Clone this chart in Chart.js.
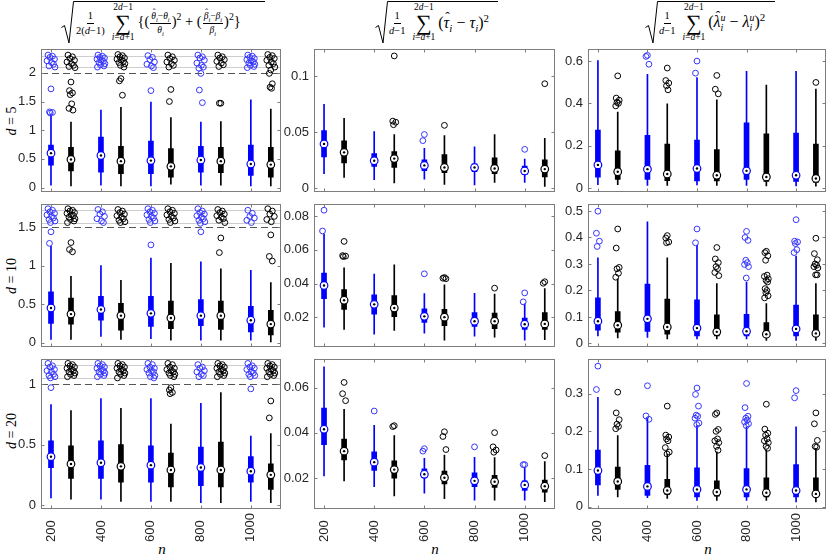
<!DOCTYPE html>
<html><head><meta charset="utf-8">
<script src="https://cdn.jsdelivr.net/npm/chart.js@4.4.1/dist/chart.umd.min.js"></script>
<style>
html,body{margin:0;padding:0;background:#fff;}
body{width:830px;height:556px;position:relative;overflow:hidden;font-family:'Liberation Sans',Arial,sans-serif;}
canvas{position:absolute;}
.formula{position:absolute;top:0;height:46px;font-family:'Liberation Serif','DejaVu Serif',serif;color:#000;}
.rad{position:absolute;left:0;top:0;}
.rad path{fill:none;stroke:#000;stroke-width:1;}
.mc{position:absolute;top:4px;height:38px;display:flex;align-items:center;white-space:nowrap;}
.frac{display:inline-flex;flex-direction:column;align-items:center;vertical-align:middle;line-height:1.1;}
.frac .nu{border-bottom:0.8px solid #000;padding:0 1px 1px;}
.frac .de{padding-top:1px;}
.sm{font-size:10.5px;margin-right:7px;}
.md{font-size:9.5px;margin:0 1px;}
.sum{display:inline-flex;flex-direction:column;align-items:center;line-height:1;margin-right:3px;}
.sum .lim{font-size:9.5px;}
.sum .sig{font-size:22px;line-height:0.92;}
.body{font-size:16px;display:inline-block;}
.b1{font-size:14.5px;}
sub,sup{font-size:0.68em;line-height:0;}
.hat{position:relative;display:inline-block;}
.hat::after{content:'\02C6';position:absolute;left:0.12em;right:0;top:-0.28em;text-align:center;font-style:normal;font-size:0.85em;}
.ss{display:inline-flex;flex-direction:column;vertical-align:middle;font-size:0.62em;line-height:1.05;font-style:italic;}
.rowlab{position:absolute;font-family:'Liberation Serif',serif;font-size:14px;white-space:nowrap;transform:translate(-50%,-50%) rotate(-90deg);}
.nlab{position:absolute;font-family:'Liberation Serif',serif;font-size:15px;font-style:italic;transform:translate(-50%,-50%);}
</style></head>
<body>
<div class="formula" style="left:61px;width:204px">
  <svg class="rad" width="204" height="46"><path d="M0.5 27.5 L3.5 25.5 L8 43 L12.5 1.5 L204 1.5"/></svg>
  <div class="mc" style="left:15px">
    <span class="frac sm"><span class="nu">1</span><span class="de">2(<i>d</i>−1)</span></span>
    <span class="sum"><span class="lim">2<i>d</i>−1</span><span class="sig">∑</span><span class="lim"><i>i</i>=<i>d</i>+1</span></span>
    <span class="body b1">{(<span class="frac md"><span class="nu"><i class="hat">θ</i><sub><i>i</i></sub>−<i>θ</i><sub><i>i</i></sub></span><span class="de"><i>θ</i><sub><i>i</i></sub></span></span>)<sup>2</sup> + (<span class="frac md"><span class="nu"><i class="hat">β</i><sub><i>i</i></sub>−<i>β</i><sub><i>i</i></sub></span><span class="de"><i>β</i><sub><i>i</i></sub></span></span>)<sup>2</sup>}</span>
  </div>
</div>
<div class="formula" style="left:375px;width:123px">
  <svg class="rad" width="123" height="46"><path d="M0.5 27.5 L3.5 25.5 L8 43 L12.5 1.5 L123 1.5"/></svg>
  <div class="mc" style="left:14px">
    <span class="frac sm"><span class="nu">1</span><span class="de"><i>d</i>−1</span></span>
    <span class="sum"><span class="lim">2<i>d</i>−1</span><span class="sig">∑</span><span class="lim"><i>i</i>=<i>d</i>+1</span></span>
    <span class="body">(<i class="hat">τ</i><sub><i>i</i></sub> − <i>τ</i><sub><i>i</i></sub>)<sup>2</sup></span>
  </div>
</div>
<div class="formula" style="left:645px;width:130px">
  <svg class="rad" width="130" height="46"><path d="M0.5 27.5 L3.5 25.5 L8 43 L12.5 1.5 L130 1.5"/></svg>
  <div class="mc" style="left:14px">
    <span class="frac sm"><span class="nu">1</span><span class="de"><i>d</i>−1</span></span>
    <span class="sum"><span class="lim">2<i>d</i>−1</span><span class="sig">∑</span><span class="lim"><i>i</i>=<i>d</i>+1</span></span>
    <span class="body">(<i class="hat">λ</i><span class="ss"><span>u</span><span>i</span></span> − <i>λ</i><span class="ss"><span>u</span><span>i</span></span>)<sup>2</sup></span>
  </div>
</div>
<div class="rowlab" style="left:12px;top:121px"><i>d</i> = 5</div>
<div class="rowlab" style="left:12px;top:276px"><i>d</i> = 10</div>
<div class="rowlab" style="left:12px;top:431px"><i>d</i> = 20</div>
<div class="nlab" style="left:162px;top:549px">n</div>
<div class="nlab" style="left:435px;top:549px">n</div>
<div class="nlab" style="left:708px;top:549px">n</div>
<script>
// ---------- data ----------
const nValues = [200, 400, 600, 800, 1000];
const nTickLabels = ['200', '400', '600', '800', '1000'];
// each box: [lower whisker, Q1, median, Q3, upper whisker]
const thetaD5Blue  = [[0.04,0.39,0.60,0.74,1.27],[0.04,0.27,0.56,0.88,1.35],[0.03,0.24,0.47,0.81,1.49],[0.04,0.27,0.48,0.72,1.14],[0.03,0.21,0.41,0.74,1.53]];
const thetaD5Black = [[0.03,0.29,0.49,0.70,1.14],[0.03,0.24,0.46,0.72,1.40],[0.06,0.18,0.37,0.68,1.22],[0.04,0.26,0.46,0.70,1.15],[0.03,0.18,0.40,0.70,1.37]];
const thetaD5BlueOut  = [[1.72,1.32,1.31,1.30],[],[1.69],[1.99,1.70,1.48],[]];
const thetaD5BlackOut = [[1.84,1.69,1.65,1.62,1.46,1.38,1.35],[1.90,1.86,1.61],[1.71,1.50],[1.47,1.47],[2.05,1.99,1.81,1.75,1.73]];
const thetaD5BlueFar  = [[2.31,2.29,2.27,2.24,2.21,2.18,2.15,2.12,2.10],[2.31,2.29,2.27,2.26,2.24,2.22,2.20,2.18,2.16,2.14,2.12,2.10],[2.30,2.27,2.23,2.19,2.15,2.12,2.09],[2.31,2.28,2.26,2.22,2.17,2.13,2.10,2.08],[2.31,2.29,2.27,2.25,2.23,2.21,2.19,2.17,2.15,2.13,2.11,2.09]];
const thetaD5BlackFar = [[2.31,2.28,2.25,2.22,2.19,2.16,2.13,2.11,2.09],[2.32,2.30,2.28,2.26,2.24,2.22,2.20,2.18,2.16,2.13,2.10],[2.31,2.28,2.25,2.22,2.19,2.16,2.13,2.10],[2.31,2.28,2.26,2.23,2.20,2.17,2.14,2.11],[2.32,2.30,2.27,2.25,2.22,2.19,2.16,2.13,2.10]];

const thetaD10Blue  = [[0.04,0.25,0.45,0.66,1.25],[0.08,0.29,0.43,0.60,1.00],[0.05,0.21,0.38,0.60,1.10],[0.03,0.22,0.35,0.56,1.05],[0.03,0.14,0.29,0.47,0.94]];
const thetaD10Black = [[0.04,0.24,0.37,0.58,0.86],[0.04,0.16,0.35,0.51,0.81],[0.03,0.18,0.32,0.54,1.03],[0.03,0.17,0.35,0.54,0.96],[0.01,0.10,0.24,0.42,0.78]];
const thetaD10BlueOut  = [[1.44,1.29],[],[1.27],[1.44],[]];
const thetaD10BlackOut = [[1.30,1.21,1.18],[],[],[1.36,1.17],[1.40,1.12,1.06]];
const thetaD10BlueFar  = [[1.74,1.72,1.70,1.68,1.66,1.64,1.62,1.60,1.58,1.56],[1.73,1.70,1.67,1.64,1.61,1.58,1.56],[1.74,1.72,1.70,1.68,1.66,1.64,1.62,1.60,1.58,1.56],[1.74,1.71,1.69,1.67,1.65,1.63,1.61,1.59,1.57,1.55],[1.72,1.68,1.64,1.62,1.59,1.56]];
const thetaD10BlackFar = [[1.74,1.72,1.71,1.69,1.68,1.66,1.65,1.63,1.61,1.60,1.58,1.56],[1.73,1.71,1.69,1.67,1.65,1.63,1.61,1.59,1.57,1.56],[1.74,1.72,1.70,1.68,1.66,1.64,1.62,1.60,1.58,1.56],[1.73,1.71,1.69,1.67,1.65,1.63,1.61,1.59,1.56],[1.74,1.71,1.67,1.64,1.60,1.57]];

const thetaD20Blue  = [[0.06,0.31,0.40,0.53,0.83],[0.05,0.22,0.35,0.53,0.88],[0.03,0.19,0.33,0.49,0.88],[0.02,0.16,0.31,0.48,0.84],[0.03,0.19,0.28,0.40,0.57]];
const thetaD20Black = [[0.05,0.22,0.34,0.49,0.78],[0.03,0.19,0.32,0.50,0.80],[0.03,0.15,0.29,0.43,0.67],[0.02,0.15,0.29,0.52,0.93],[0.02,0.13,0.25,0.34,0.59]];
const thetaD20BlueOut  = [[0.97],[],[],[],[0.96]];
const thetaD20BlackOut = [[],[],[0.97,0.95,0.93,0.92],[],[0.86,0.72]];
const thetaD20BlueFar  = [[1.17,1.15,1.14,1.12,1.11,1.10,1.08,1.07,1.06,1.05],[1.17,1.16,1.15,1.14,1.13,1.12,1.11,1.10,1.09,1.08,1.07,1.06],[1.17,1.16,1.14,1.13,1.12,1.11,1.10,1.09,1.07,1.06,1.05],[1.16,1.14,1.13,1.11,1.10,1.08,1.07,1.06],[1.17,1.15,1.14,1.13,1.12,1.10,1.09,1.08,1.07,1.06]];
const thetaD20BlackFar = [[1.17,1.16,1.15,1.14,1.13,1.12,1.11,1.10,1.09,1.08,1.07,1.06],[1.17,1.16,1.15,1.14,1.13,1.12,1.11,1.10,1.09,1.08,1.07,1.05],[1.17,1.16,1.14,1.13,1.12,1.11,1.10,1.09,1.08,1.07,1.06],[1.17,1.16,1.15,1.14,1.13,1.12,1.11,1.10,1.09,1.08,1.07,1.06],[1.17,1.16,1.15,1.14,1.13,1.12,1.11,1.10,1.09,1.08,1.07,1.06]];

const tauD5Blue  = [[0.013,0.028,0.0396,0.0516,0.075],[0.0075,0.0195,0.0245,0.031,0.0507],[0.0079,0.0156,0.0203,0.0253,0.0355],[0.0029,0.0148,0.0184,0.0217,0.0369],[0.0051,0.012,0.0153,0.0197,0.0259]];
const tauD5Black = [[0.0095,0.0225,0.032,0.0424,0.0626],[0.0046,0.0184,0.0264,0.0328,0.048],[0.0032,0.0139,0.0184,0.030,0.047],[0.0051,0.0129,0.0176,0.0272,0.048],[0.0015,0.0101,0.017,0.0253,0.0446]];
const tauD5BlueOut  = [[],[],[0.048,0.0425],[],[0.0347]];
const tauD5BlackOut = [[],[0.1184,0.0600,0.0590,0.0568],[0.0562],[],[0.0935]];

const tauD10Blue  = [[0.0142,0.0310,0.0389,0.0462,0.0694],[0.0100,0.0219,0.0277,0.0334,0.0456],[0.0106,0.0170,0.0206,0.0250,0.0341],[0.0088,0.0146,0.0177,0.0228,0.0343],[0.0064,0.0128,0.0159,0.0195,0.0280]];
const tauD10Black = [[0.0128,0.0247,0.0301,0.0365,0.0493],[0.0122,0.0204,0.0255,0.0329,0.0511],[0.0064,0.0151,0.0201,0.0247,0.0393],[0.0082,0.0133,0.0177,0.0225,0.0338],[0.0067,0.0128,0.0161,0.0228,0.0370]];
const tauD10BlueOut  = [[0.0835,0.0712],[],[0.0458],[],[0.0345,0.0292]];
const tauD10BlackOut = [[0.0650,0.0566,0.0563,0.0560],[],[0.0436,0.0432,0.0429],[0.0373],[0.0411,0.0402]];

const tauD20Blue  = [[0.0209,0.0348,0.0416,0.0510,0.0693],[0.0161,0.0233,0.0270,0.0316,0.0434],[0.0132,0.0201,0.0216,0.0240,0.0287],[0.0101,0.0161,0.0187,0.0223,0.0292],[0.0101,0.0144,0.0169,0.0187,0.0245]];
const tauD20Black = [[0.0187,0.0280,0.0319,0.0373,0.0505],[0.0120,0.0199,0.0237,0.0276,0.0388],[0.0108,0.0173,0.0201,0.0230,0.0302],[0.0101,0.0158,0.0183,0.0212,0.0290],[0.0094,0.0137,0.0163,0.0190,0.0273]];
const tauD20BlueOut  = [[],[0.0497],[0.0330,0.0319],[0.0338],[0.0259,0.0259]];
const tauD20BlackOut = [[0.0624,0.0574,0.0543],[0.0432,0.0428],[0.0405,0.0384,0.0326],[0.0401,0.0338,0.0324,0.0314],[0.0299]];

const lambdaD5Blue  = [[0.016,0.051,0.109,0.274,0.602],[0.012,0.041,0.089,0.249,0.537],[0.014,0.033,0.092,0.226,0.522],[0.012,0.041,0.081,0.308,0.551],[0.010,0.031,0.060,0.259,0.551]];
const lambdaD5Black = [[0.016,0.041,0.077,0.176,0.359],[0.012,0.035,0.066,0.208,0.398],[0.012,0.033,0.060,0.182,0.417],[0.010,0.031,0.052,0.256,0.486],[0.008,0.026,0.045,0.208,0.468]];
const lambdaD5BlueOut  = [[],[0.627,0.622,0.585],[0.600,0.543],[],[]];
const lambdaD5BlackOut = [[0.530,0.425,0.415,0.405,0.400,0.388],[0.567,0.508,0.496,0.483,0.464],[0.532,0.467,0.445],[],[0.499]];

const lambdaD10Blue  = [[0.029,0.050,0.084,0.172,0.323],[0.023,0.046,0.093,0.224,0.459],[0.017,0.029,0.058,0.165,0.370],[0.017,0.029,0.046,0.110,0.232],[0.012,0.029,0.055,0.145,0.330]];
const lambdaD10Black = [[0.021,0.043,0.069,0.120,0.244],[0.017,0.035,0.062,0.168,0.323],[0.017,0.029,0.044,0.108,0.226],[0.012,0.026,0.035,0.079,0.151],[0.012,0.027,0.038,0.108,0.226]];
const lambdaD10BlueOut  = [[0.499,0.416,0.386,0.366],[],[0.432,0.380],[0.423,0.400,0.389,0.314,0.305,0.298,0.290,0.247],[0.467,0.386,0.383,0.377,0.354,0.343]];
const lambdaD10BlackOut = [[0.432,0.360,0.287,0.282,0.265,0.250],[0.407,0.398,0.383,0.380],[0.362,0.319,0.305,0.290,0.282,0.268,0.256],[0.348,0.343,0.331,0.314,0.258,0.253,0.244,0.238,0.232,0.207,0.200,0.192,0.180,0.172],[0.397,0.339,0.316,0.300,0.295,0.290,0.285,0.259,0.259]];

const lambdaD20Blue  = [[0.030,0.058,0.096,0.150,0.290],[0.024,0.030,0.054,0.110,0.236],[0.017,0.026,0.046,0.103,0.215],[0.017,0.026,0.046,0.101,0.212],[0.013,0.026,0.043,0.112,0.212]];
const lambdaD20Black = [[0.026,0.046,0.067,0.105,0.189],[0.022,0.033,0.043,0.073,0.140],[0.017,0.028,0.039,0.069,0.146],[0.017,0.026,0.037,0.077,0.150],[0.013,0.026,0.034,0.077,0.155]];
const lambdaD20BlueOut  = [[0.373,0.311],[0.321,0.241,0.232],[0.315,0.298,0.267,0.243,0.240,0.235,0.222,0.218],[0.327,0.263,0.240,0.235,0.230,0.225,0.220,0.215],[0.308,0.289]];
const lambdaD20BlackOut = [[0.304,0.249,0.231,0.219,0.213,0.207],[0.267,0.190,0.185,0.180,0.175,0.157,0.145,0.140],[0.249,0.245,0.205,0.200,0.180,0.175,0.170,0.160,0.150],[0.272,0.206,0.195,0.190,0.180,0.175,0.170,0.160,0.155],[0.249,0.220,0.176,0.160,0.158]];

// y tick labels
const thetaD5Ticks  = [0, 0.5, 1, 1.5, 2];
const thetaD10Ticks = [0, 0.5, 1, 1.5];
const thetaD20Ticks = [0, 0.5, 1];
const tauD5Ticks    = [0, 0.05, 0.1];
const tauD10Ticks   = [0.02, 0.04, 0.06, 0.08];
const tauD20Ticks   = [0.02, 0.04, 0.06];
const lambdaD5Ticks  = [0, 0.2, 0.4, 0.6];
const lambdaD10Ticks = [0, 0.1, 0.2, 0.3, 0.4, 0.5];
const lambdaD20Ticks = [0, 0.1, 0.2, 0.3];

// horizontal jitter of outlier markers (in n units)
const jitterOut = [0, -6, 6, -3, 3, -8, 8, -1, 5, -5, 2, -2, 7, -7];
const jitterFar = [-12, 6, -4, 14, -16, 2, 10, -8, 16, -2, 12, -14];

// ---------- drawing ----------
const BLUE = '#0000ff', BLACK = '#000000';
const colGeom = [{l:41, r:283}, {l:314, r:557}, {l:588, r:828}];
const rowGeom = [{t:44, b:199}, {t:199, b:354}, {t:354, b:509}];
const PAIR_OFFSET = 80;

const panels = [
  {col:0,row:0,blue:thetaD5Blue,black:thetaD5Black,blueOut:thetaD5BlueOut,blackOut:thetaD5BlackOut,blueFar:thetaD5BlueFar,blackFar:thetaD5BlackFar,ticks:thetaD5Ticks,ymin:-0.081,ymax:2.419,band:{limit:2,lines:[2.105,2.295]}},
  {col:0,row:1,blue:thetaD10Blue,black:thetaD10Black,blueOut:thetaD10BlueOut,blackOut:thetaD10BlackOut,blueFar:thetaD10BlueFar,blackFar:thetaD10BlackFar,ticks:thetaD10Ticks,ymin:-0.060,ymax:1.804,band:{limit:1.5,lines:[1.56,1.717]}},
  {col:0,row:2,blue:thetaD20Blue,black:thetaD20Black,blueOut:thetaD20BlueOut,blackOut:thetaD20BlackOut,blueFar:thetaD20BlueFar,blackFar:thetaD20BlackFar,ticks:thetaD20Ticks,ymin:-0.032,ymax:1.208,band:{limit:1,lines:[1.05,1.155]}},
  {col:1,row:0,blue:tauD5Blue,black:tauD5Black,blueOut:tauD5BlueOut,blackOut:tauD5BlackOut,ticks:tauD5Ticks,ymin:-0.0037,ymax:0.1248},
  {col:1,row:1,blue:tauD10Blue,black:tauD10Black,blueOut:tauD10BlueOut,blackOut:tauD10BlackOut,ticks:tauD10Ticks,ymin:0.0023,ymax:0.0873},
  {col:1,row:2,blue:tauD20Blue,black:tauD20Black,blueOut:tauD20BlueOut,blackOut:tauD20BlackOut,ticks:tauD20Ticks,ymin:0.0062,ymax:0.0729},
  {col:2,row:0,blue:lambdaD5Blue,black:lambdaD5Black,blueOut:lambdaD5BlueOut,blackOut:lambdaD5BlackOut,ticks:lambdaD5Ticks,ymin:-0.02,ymax:0.658},
  {col:2,row:1,blue:lambdaD10Blue,black:lambdaD10Black,blueOut:lambdaD10BlueOut,blackOut:lambdaD10BlackOut,ticks:lambdaD10Ticks,ymin:-0.014,ymax:0.527},
  {col:2,row:2,blue:lambdaD20Blue,black:lambdaD20Black,blueOut:lambdaD20BlueOut,blackOut:lambdaD20BlackOut,ticks:lambdaD20Ticks,ymin:-0.006,ymax:0.3925}
];

const framePlugin = {
  id: 'frame',
  beforeDatasetsDraw(chart, args, o) {
    if (!o.band) return;
    const {ctx, chartArea: a} = chart; const y = chart.scales.y;
    ctx.save(); ctx.lineWidth = 1; ctx.strokeStyle = '#cdcdcd';
    o.band.lines.forEach(v => { const py = Math.round(y.getPixelForValue(v)) + 0.5; ctx.beginPath(); ctx.moveTo(a.left, py); ctx.lineTo(a.right, py); ctx.stroke(); });
    ctx.strokeStyle = '#555'; ctx.setLineDash([7, 4]);
    const py = Math.round(y.getPixelForValue(o.band.limit)) + 0.5;
    ctx.beginPath(); ctx.moveTo(a.left, py); ctx.lineTo(a.right, py); ctx.stroke();
    ctx.restore();
  },
  afterDraw(chart, args, o) {
    const {ctx, chartArea: a, scales: {x, y}} = chart;
    ctx.save(); ctx.strokeStyle = '#7d7d7d'; ctx.lineWidth = 1;
    const L = Math.round(a.left) + 0.5, R = Math.round(a.right) - 0.5, T = Math.round(a.top) + 0.5, B = Math.round(a.bottom) - 0.5;
    ctx.strokeRect(L, T, R - L, B - T);
    ctx.beginPath();
    y.ticks.forEach(t => { const py = Math.round(y.getPixelForValue(t.value)) + 0.5; ctx.moveTo(L, py); ctx.lineTo(L + 3, py); ctx.moveTo(R, py); ctx.lineTo(R - 3, py); });
    nValues.forEach(v => { const px = Math.round(x.getPixelForValue(v)) + 0.5; ctx.moveTo(px, B); ctx.lineTo(px, B - 3); ctx.moveTo(px, T); ctx.lineTo(px, T + 3); });
    ctx.stroke();
    if (o.xlabels) {
      ctx.fillStyle = '#262626'; ctx.font = '13px "Liberation Sans", Arial, sans-serif';
      ctx.textAlign = 'left'; ctx.textBaseline = 'middle';
      nValues.forEach((v, i) => { const px = x.getPixelForValue(v); ctx.save(); ctx.translate(px, a.bottom + 33); ctx.rotate(-Math.PI / 2); ctx.fillText(nTickLabels[i], 0, 0); ctx.restore(); });
    }
    ctx.restore();
  }
};

function build(p) {
  const c = colGeom[p.col], r = rowGeom[p.row];
  const W = 44, padTop = 8, padRight = 3, padBottom = p.row === 2 ? 42 : 6;
  const cw = W + (c.r - c.l) + padRight, ch = padTop + (r.b - r.t) + padBottom;
  const cv = document.createElement('canvas');
  cv.width = cw; cv.height = ch;
  cv.style.left = (c.l - W) + 'px'; cv.style.top = (r.t - padTop) + 'px';
  cv.style.width = cw + 'px'; cv.style.height = ch + 'px';
  document.body.appendChild(cv);
  const ds = [];
  const series = [
    {st:p.blue, out:p.blueOut, far:p.blueFar, col:BLUE, outCol:'#3535ff', off:0},
    {st:p.black, out:p.blackOut, far:p.blackFar, col:BLACK, outCol:'#000', off:PAIR_OFFSET}
  ];
  series.forEach(s => {
    const xs = nValues.map(n => n + s.off);
    ds.push({type:'bar', data:s.st.map((b, i) => ({x:xs[i], y:[b[0], b[4]]})), backgroundColor:s.col, barThickness:1, grouped:false, borderWidth:0, order:6});
    ds.push({type:'bar', data:s.st.map((b, i) => ({x:xs[i], y:[b[1], b[3]]})), backgroundColor:s.col, barThickness:5, grouped:false, borderWidth:0, order:5});
    const pts = [];
    s.out.forEach((arr, i) => arr.forEach((v, k) => pts.push({x:xs[i] + jitterOut[k % jitterOut.length], y:v})));
    if (s.far) s.far.forEach((arr, i) => arr.forEach((v, k) => pts.push({x:xs[i] + jitterFar[k % jitterFar.length], y:v})));
    ds.push({type:'scatter', data:pts, pointRadius:2.9, pointBorderColor:s.outCol, pointBackgroundColor:'rgba(0,0,0,0)', pointBorderWidth:1, order:4, clip:8});
    const med = s.st.map((b, i) => ({x:xs[i], y:b[2]}));
    ds.push({type:'scatter', data:med, pointRadius:3.8, pointBackgroundColor:'#fff', pointBorderColor:s.col, pointBorderWidth:1.2, order:3, clip:8});
    ds.push({type:'scatter', data:med, pointRadius:1.2, pointBackgroundColor:'#000', pointBorderWidth:0, order:2, clip:8});
  });
  new Chart(cv, {
    type:'bar',
    data:{datasets:ds},
    plugins:[framePlugin],
    options:{
      responsive:false, animation:false, events:[], devicePixelRatio:1,
      layout:{padding:{left:0, right:padRight, top:padTop, bottom:padBottom}},
      plugins:{legend:{display:false}, tooltip:{enabled:false}, frame:{band:p.band, xlabels:p.row === 2}},
      scales:{
        x:{type:'linear', min:160, max:1120, offset:false, display:false},
        y:{type:'linear', min:p.ymin, max:p.ymax,
           afterFit:s => { s.width = W; },
           afterBuildTicks:s => { s.ticks = p.ticks.map(v => ({value:v})); },
           grid:{display:false, drawTicks:false}, border:{display:false},
           ticks:{padding:5, color:'#262626', autoSkip:false, font:{family:'Liberation Sans', size:13}, callback:v => String(v)}}
      }
    }
  });
}
panels.forEach(build);
</script>
</body></html>
